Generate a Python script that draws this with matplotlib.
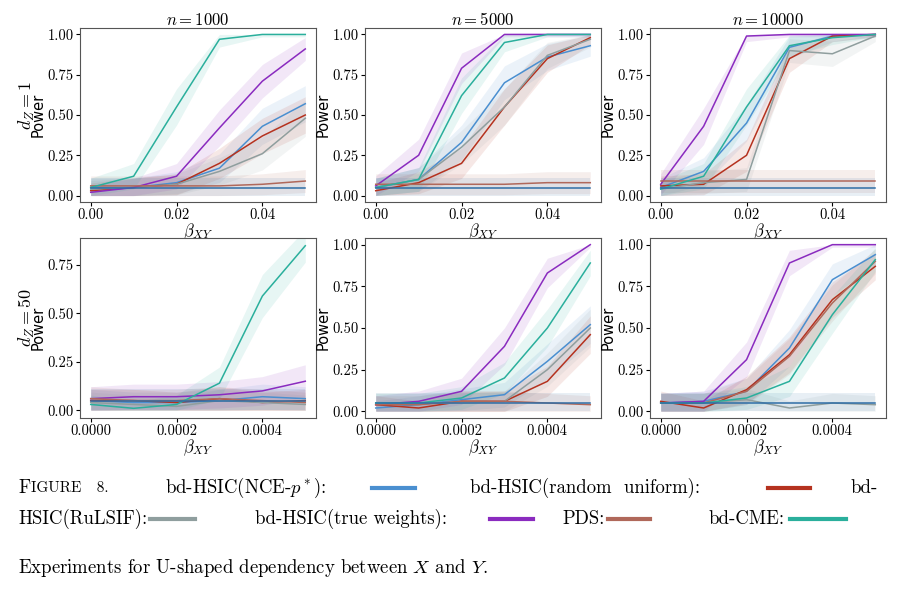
import numpy as np
import matplotlib
matplotlib.use("Agg")
import matplotlib.pyplot as plt
from matplotlib.lines import Line2D

plt.rcParams["mathtext.fontset"] = "cm"
plt.rcParams["font.family"] = ["cmr10", "DejaVu Serif"]
plt.rcParams["axes.formatter.use_mathtext"] = True

beta_top = [0.0, 0.01, 0.02, 0.03, 0.04, 0.05]
beta_bot = [0.0, 0.0001, 0.0002, 0.0003, 0.0004, 0.0005]

names = ["nce", "unif", "rulsif", "true", "pds", "cme", "flat"]
colors = {"nce": "#4a8fd0", "unif": "#b5321f", "rulsif": "#8f9e9e",
          "true": "#8a2bbf", "pds": "#b0685a", "cme": "#2aaf9c", "flat": "#2f6ea6"}

power = [
    {  # n=1000, dZ=1
        "nce": [.05, .05, .08, .17, .43, .57], "unif": [.03, .05, .07, .20, .37, .50],
        "rulsif": [.04, .05, .07, .15, .26, .48], "true": [.02, .05, .12, .42, .71, .91],
        "pds": [.06, .06, .06, .06, .07, .09], "cme": [.05, .12, .55, .97, 1, 1],
        "flat": [.05] * 6},
    {  # n=5000
        "nce": [.05, .10, .33, .70, .86, .93], "unif": [.03, .08, .20, .55, .85, .98],
        "rulsif": [.05, .10, .30, .55, .87, .97], "true": [.06, .25, .79, 1, 1, 1],
        "pds": [.07, .07, .07, .07, .08, .08], "cme": [.05, .10, .62, .95, 1, 1],
        "flat": [.05] * 6},
    {  # n=10000
        "nce": [.05, .15, .45, .92, .99, 1], "unif": [.06, .07, .25, .85, .99, 1],
        "rulsif": [.04, .08, .10, .90, .88, .99], "true": [.07, .43, .99, 1, 1, 1],
        "pds": [.09] * 6, "cme": [.04, .12, .55, .93, .98, 1],
        "flat": [.05] * 6},
    {  # n=1000, dZ=50
        "nce": [.05, .04, .04, .05, .07, .06], "unif": [.05, .05, .04, .06, .04, .05],
        "rulsif": [.04, .03, .02, .05, .04, .03], "true": [.06, .07, .07, .08, .10, .15],
        "pds": [.06, .05, .05, .06, .05, .04], "cme": [.03, .01, .03, .14, .59, .85],
        "flat": [.05] * 6},
    {  # n=5000
        "nce": [.02, .04, .07, .10, .30, .52], "unif": [.04, .02, .06, .06, .18, .46],
        "rulsif": [.05, .05, .05, .06, .25, .50], "true": [.04, .06, .12, .39, .83, 1],
        "pds": [.04, .04, .06, .06, .05, .04], "cme": [.05, .05, .08, .20, .50, .89],
        "flat": [.05] * 6},
    {  # n=10000
        "nce": [.05, .06, .12, .38, .79, .94], "unif": [.06, .02, .13, .34, .67, .87],
        "rulsif": [.05, .05, .07, .02, .05, .04], "true": [.05, .06, .31, .89, 1, 1],
        "pds": [.05, .05, .12, .33, .65, .90], "cme": [.05, .05, .08, .18, .58, .91],
        "flat": [.05] * 6},
]
col_titles = ["$n = 1000$", "$n = 5000$", "$n = 10000$"]
row_labels = ["$d_Z = 1$", "$d_Z = 50$"]

fig = plt.figure(figsize=(9.18, 6.11), dpi=100)
W, H = 918, 611
lefts = [80, 365, 650]
tops = [28, 238]
heights = [174, 180]
aw = 236

for k, data in enumerate(power):
    r, c = divmod(k, 3)
    ah = heights[r]
    ax = fig.add_axes([lefts[c] / W, 1 - (tops[r] + ah) / H, aw / W, ah / H])
    xs = beta_top if r == 0 else beta_bot
    for nm in names:
        p = np.array(data[nm])
        band = 1.96 * np.sqrt(p * (1 - p) / 100) + 0.015
        ax.fill_between(xs, np.clip(p - band, 0, 1), np.clip(p + band, 0, 1),
                        color=colors[nm], alpha=0.11, lw=0)
        ax.plot(xs, p, color=colors[nm], lw=1.1)
    if r == 0:
        ax.set_title(col_titles[c], fontsize=12, pad=2)
        ax.set_xticks([0, 0.02, 0.04])
        ax.set_xticklabels(["0.00", "0.02", "0.04"])
    else:
        ax.set_xticks([0, 0.0002, 0.0004])
        ax.set_xticklabels(["0.0000", "0.0002", "0.0004"])
    if r == 1 and c == 0:
        ax.set_ylim(-0.04, 0.89)
        ax.set_yticks([0, 0.25, 0.5, 0.75])
        ax.set_yticklabels(["0.00", "0.25", "0.50", "0.75"])
    else:
        ax.set_ylim(-0.04, 1.04)
        ax.set_yticks([0, 0.25, 0.5, 0.75, 1.0])
        ax.set_yticklabels(["0.00", "0.25", "0.50", "0.75", "1.00"])
    ax.set_xlim(-0.0025 * (1 if r == 0 else 0.01), xs[-1] * 1.05)
    ax.set_xlabel(r"$\beta_{XY}$", fontsize=12, labelpad=0)
    ax.set_ylabel("Power", fontsize=10.5, family="DejaVu Sans", labelpad=1)
    ax.tick_params(labelsize=10.5, length=3, pad=1.5)
    for s in ax.spines.values():
        s.set_color("#555555")
    if c == 0:
        fig.text(27 / W, 1 - (tops[r] + ah / 2 - 10) / H, row_labels[r], rotation=90,
                 fontsize=13, ha="center", va="center")

# caption with inline legend
fs = 13.5
def txt(x, y, s, size=fs):
    fig.text(x / W, 1 - y / H, s, fontsize=size, va="center", ha="left")

def seg(x0, x1, y, nm):
    fig.add_artist(Line2D([x0 / W, x1 / W], [1 - y / H] * 2, color=colors[nm], lw=3,
                          transform=fig.transFigure))

y1, y2, y3 = 488, 519, 568
txt(18, y1, "F")
txt(31, y1, "IGURE   8.", size=11)
txt(165, y1, "bd-HSIC(NCE-$p^*$):")
seg(372, 415, y1, "nce")
txt(470, y1, "bd-HSIC(random  uniform):")
seg(768, 810, y1, "unif")
txt(850, y1, "bd-")
txt(18, y2, "HSIC(RuLSIF):")
seg(150, 195, y2, "rulsif")
txt(255, y2, "bd-HSIC(true weights):")
seg(490, 533, y2, "true")
txt(562, y2, "PDS:")
seg(608, 650, y2, "pds")
txt(708, y2, "bd-CME:")
seg(790, 846, y2, "cme")
txt(18, y3, "Experiments for U-shaped dependency between $X$ and $Y$.")

fig.savefig("out.png", dpi=100)
